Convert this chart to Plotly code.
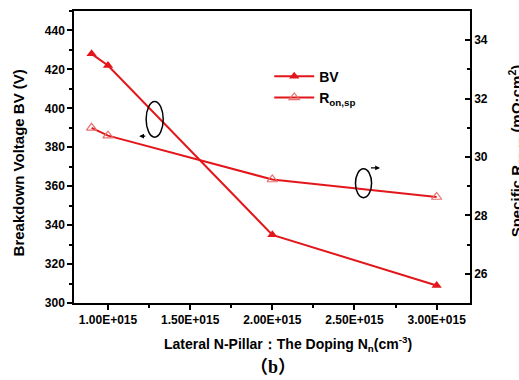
import plotly.graph_objects as go

doping = [0.9e15, 1.0e15, 2.0e15, 3.0e15]
bv = [428, 422, 335, 309]
ron = [31.0, 30.73, 29.23, 28.63]
x_ticks = [1.0e15, 1.5e15, 2.0e15, 2.5e15, 3.0e15]
x_tick_labels = ["1.00E+015", "1.50E+015", "2.00E+015", "2.50E+015", "3.00E+015"]
bv_ticks = [300, 320, 340, 360, 380, 400, 420, 440]
ron_ticks = [26, 28, 30, 32, 34]

RED = "#e3171b"
FONT = "Arial, Liberation Sans, sans-serif"
tickfont = dict(family=FONT, size=12, color="black")

fig = go.Figure()
fig.add_trace(go.Scatter(
    x=doping, y=bv, name="<b>BV</b>", mode="lines+markers",
    line=dict(color=RED, width=2),
    marker=dict(symbol="triangle-up", size=9, color=RED),
))
fig.add_trace(go.Scatter(
    x=doping, y=ron, name="<b>R<sub>on,sp</sub></b>", mode="lines+markers", yaxis="y2",
    line=dict(color=RED, width=2),
    marker=dict(symbol="triangle-up-open", size=9, color="#e87070", line=dict(width=1.2)),
))

axis_common = dict(showline=True, linecolor="black", linewidth=1.5, showgrid=False,
                   zeroline=False, ticks="outside", ticklen=5, tickwidth=1.5,
                   tickcolor="black", tickfont=tickfont)

fig.update_layout(
    width=519, height=380,
    margin=dict(l=74, r=49, t=9, b=77),
    paper_bgcolor="white", plot_bgcolor="white",
    showlegend=True,
    legend=dict(x=0.493, y=0.83, xanchor="left", yanchor="top", bgcolor="rgba(0,0,0,0)",
                font=dict(family=FONT, size=14, color="black"), itemwidth=40,
                tracegroupgap=4),
    xaxis=dict(range=[0.793e15, 3.203e15], tickvals=x_ticks, ticktext=[f"<b>{t}</b>" for t in x_tick_labels],
               mirror=True, minor=dict(ticks="outside", ticklen=3, tickwidth=1.5, tickcolor="black", dtick=0.25e15,
                                        tick0=0.75e15),
               **axis_common),
    yaxis=dict(range=[300, 450], tickvals=bv_ticks,
               ticktext=[f"<b>{v}</b>" for v in bv_ticks],
               minor=dict(ticks="outside", ticklen=3, tickwidth=1.5, tickcolor="black", dtick=10, tick0=300),
               **axis_common),
    yaxis2=dict(overlaying="y", side="right", range=[25, 35], tickvals=ron_ticks,
                ticktext=[f"<b>{v}</b>" for v in ron_ticks],
                showline=True, linecolor="black", linewidth=1.5, showgrid=False, zeroline=False,
                ticks="inside", ticklen=5, tickwidth=1.5, tickcolor="black", tickfont=tickfont,
                minor=dict(ticks="inside", ticklen=3, tickwidth=1.5, tickcolor="black", dtick=1, tick0=25)),
)

# ellipses and arrows (in data coordinates)
fig.add_shape(type="circle", xref="x", yref="y", x0=1.232e15, x1=1.336e15, y0=385.2, y1=403.5,
              line=dict(color="black", width=1.5))
fig.add_shape(type="circle", xref="x", yref="y", x0=2.506e15, x1=2.604e15, y0=354.1, y1=368.9,
              line=dict(color="black", width=1.5))
fig.add_annotation(x=1.19e15, y=385.7, ax=1.236e15, ay=385.7, xref="x", yref="y", axref="x", ayref="y",
                   showarrow=True, arrowhead=2, arrowsize=0.8, arrowwidth=1.2, arrowcolor="black", text="")
fig.add_annotation(x=2.655e15, y=369.4, ax=2.591e15, ay=369.4, xref="x", yref="y", axref="x", ayref="y",
                   showarrow=True, arrowhead=2, arrowsize=0.8, arrowwidth=1.2, arrowcolor="black", text="")

# axis titles
fig.add_annotation(xref="paper", yref="paper", x=-0.14, y=0.48, xanchor="center", yanchor="middle",
                   text="<b>Breakdown Voltage BV (V)</b>",
                   textangle=-90, showarrow=False, font=dict(family=FONT, size=15, color="black"))
fig.add_annotation(xref="paper", yref="paper", x=1.085, y=0.52, xanchor="left", yanchor="middle",
                   text="<b>Specific R<sub>on,sp</sub> (mΩ·cm<sup>2</sup>)</b>",
                   textangle=-90, showarrow=False, font=dict(family=FONT, size=15, color="black"))
fig.add_annotation(xref="paper", yref="paper", x=0.54, y=-0.14, xanchor="center", yanchor="middle",
                   text="<b>Lateral N-Pillar：The Doping N<sub>n</sub>(cm<sup>-3</sup>)</b>",
                   showarrow=False, font=dict(family=FONT, size=14, color="black"))
fig.add_annotation(xref="paper", yref="paper", x=0.503, y=-0.22, xanchor="center", yanchor="middle",
                   text="<b>（b）</b>",
                   showarrow=False, font=dict(family="Liberation Serif, Noto Sans CJK SC, serif", size=18, color="black"))

fig.write_html("out.html")
